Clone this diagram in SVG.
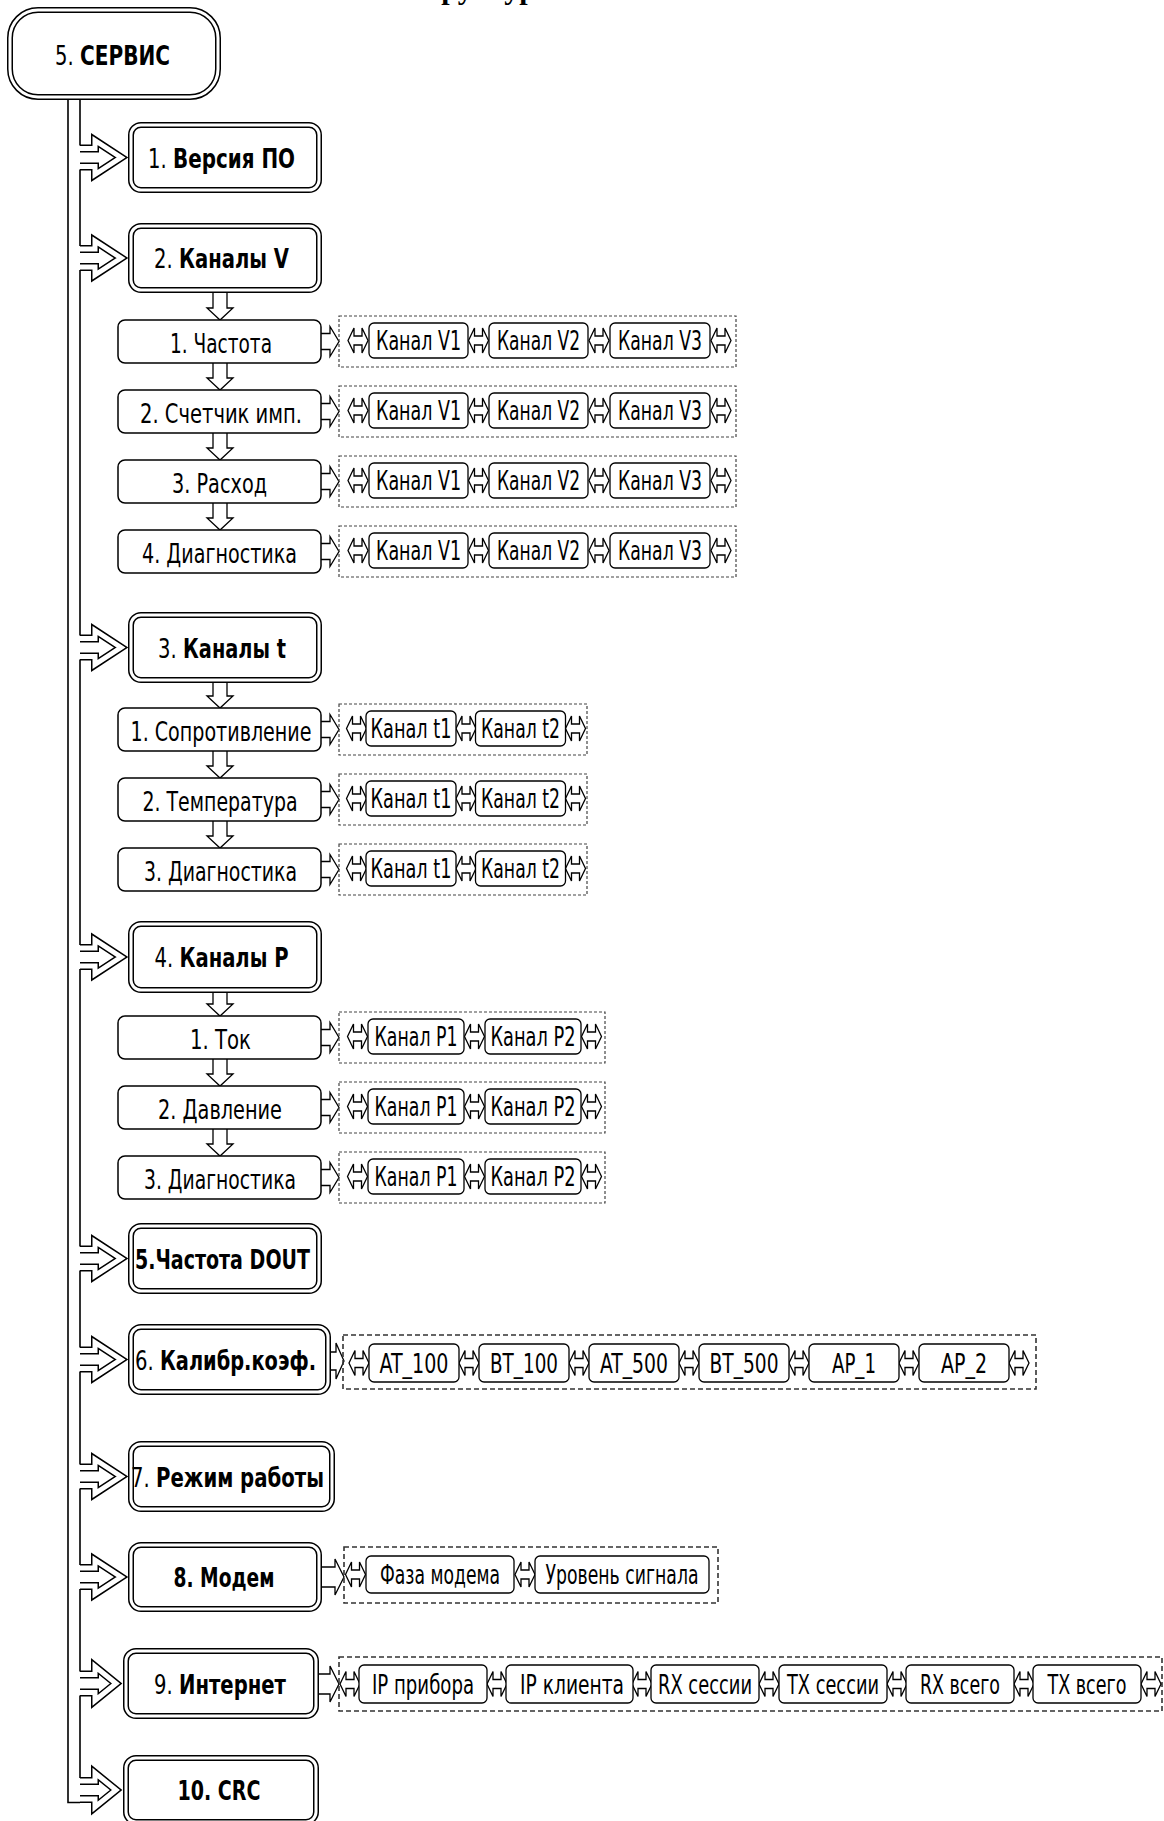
<svg xmlns="http://www.w3.org/2000/svg" xmlns:xlink="http://www.w3.org/1999/xlink" width="1164" height="1821" viewBox="0 0 1164 1821">
<style>
.mbo{fill:#fff;stroke:#000;stroke-width:6}
.mbi{fill:none;stroke:#fff;stroke-width:3}
.sb{fill:#fff;stroke:#000;stroke-width:1.5}
.cb{fill:#fff;stroke:#000;stroke-width:1.3}
.dg{fill:none;stroke:#444;stroke-width:1.2;stroke-dasharray:3 2}
.dg2{fill:none;stroke:#333;stroke-width:1.6;stroke-dasharray:5 3}
.ar{fill:#fff;stroke:#000;stroke-width:1.3;stroke-linejoin:miter}
.bao{fill:#fff;stroke:#000;stroke-width:8;stroke-linejoin:miter;stroke-miterlimit:10}
.bai{fill:none;stroke:#fff;stroke-width:5;stroke-linejoin:miter;stroke-miterlimit:10}
.tr{fill:none;stroke:#000;stroke-width:1.6}
.t{font-family:"DejaVu Sans Condensed","DejaVu Sans",sans-serif;font-stretch:condensed;font-size:26px;fill:#000;text-anchor:middle}
.s{text-anchor:start}
.b{font-weight:bold}
.ttl{font-family:"Liberation Serif","Times New Roman",serif;font-weight:bold;font-size:30px}
</style>
<defs>
<path id="da" d="M0,0 L6,-12.5 L6,-4.5 L14,-4.5 L14,-12.5 L20,0 L14,12.5 L14,4.5 L6,4.5 L6,12.5 Z"/>
</defs>
<text class="ttl" x="405" y="-1.5">Структура</text>

<g id="connectors">
<path class="tr" d="M68,100 V1802.5 H80"/>
<path class="tr" d="M80,100 V145.5 M80,169.5 V246 M80,270 V635.5 M80,659.5 V945 M80,969 V1246.5 M80,1270.5 V1347.5 M80,1371.5 V1464.5 M80,1488.5 V1565 M80,1589 V1671.5 M80,1695.5 V1778"/>
<g id="branch-arrows">
<path class="bao" d="M80,148.5 H95 V140.5 L121,157.5 L95,174.5 V166.5 H80"/><path class="bai" d="M80,148.5 H95 V140.5 L121,157.5 L95,174.5 V166.5 H80"/>
<path class="bao" d="M80,249 H95 V241 L121,258 L95,275 V267 H80"/><path class="bai" d="M80,249 H95 V241 L121,258 L95,275 V267 H80"/>
<path class="bao" d="M80,638.5 H95 V630.5 L121,647.5 L95,664.5 V656.5 H80"/><path class="bai" d="M80,638.5 H95 V630.5 L121,647.5 L95,664.5 V656.5 H80"/>
<path class="bao" d="M80,948 H95 V940 L121,957 L95,974 V966 H80"/><path class="bai" d="M80,948 H95 V940 L121,957 L95,974 V966 H80"/>
<path class="bao" d="M80,1249.5 H95 V1241.5 L121,1258.5 L95,1275.5 V1267.5 H80"/><path class="bai" d="M80,1249.5 H95 V1241.5 L121,1258.5 L95,1275.5 V1267.5 H80"/>
<path class="bao" d="M80,1350.5 H95 V1342.5 L121,1359.5 L95,1376.5 V1368.5 H80"/><path class="bai" d="M80,1350.5 H95 V1342.5 L121,1359.5 L95,1376.5 V1368.5 H80"/>
<path class="bao" d="M80,1467.5 H95 V1459.5 L121,1476.5 L95,1493.5 V1485.5 H80"/><path class="bai" d="M80,1467.5 H95 V1459.5 L121,1476.5 L95,1493.5 V1485.5 H80"/>
<path class="bao" d="M80,1568 H95 V1560 L121,1577 L95,1594 V1586 H80"/><path class="bai" d="M80,1568 H95 V1560 L121,1577 L95,1594 V1586 H80"/>
<path class="bao" d="M80,1674.5 H95 V1666.5 L116,1683.5 L95,1700.5 V1692.5 H80"/><path class="bai" d="M80,1674.5 H95 V1666.5 L116,1683.5 L95,1700.5 V1692.5 H80"/>
<path class="bao" d="M80,1781 H95 V1773 L116,1790 L95,1807 V1799 H80"/><path class="bai" d="M80,1781 H95 V1773 L116,1790 L95,1807 V1799 H80"/>
</g>
<g id="down-arrows">
<path class="ar" d="M213,291 V308 H207 L220,320 L233,308 H227 V291"/>
<path class="ar" d="M213,363 V378 H207 L220,390 L233,378 H227 V363"/>
<path class="ar" d="M213,433 V448 H207 L220,460 L233,448 H227 V433"/>
<path class="ar" d="M213,503 V518 H207 L220,530 L233,518 H227 V503"/>
<path class="ar" d="M213,681 V696 H207 L220,708 L233,696 H227 V681"/>
<path class="ar" d="M213,751 V766 H207 L220,778 L233,766 H227 V751"/>
<path class="ar" d="M213,821 V836 H207 L220,848 L233,836 H227 V821"/>
<path class="ar" d="M213,991 V1004 H207 L220,1016 L233,1004 H227 V991"/>
<path class="ar" d="M213,1059 V1074 H207 L220,1086 L233,1074 H227 V1059"/>
<path class="ar" d="M213,1129 V1144 H207 L220,1156 L233,1144 H227 V1129"/>
</g>
<g id="right-arrows">
<path class="ar" d="M321,333.5 H330 V326.5 L339,341.5 L330,356.5 V349.5 H321"/>
<path class="ar" d="M321,403.5 H330 V396.5 L339,411.5 L330,426.5 V419.5 H321"/>
<path class="ar" d="M321,473.5 H330 V466.5 L339,481.5 L330,496.5 V489.5 H321"/>
<path class="ar" d="M321,543.5 H330 V536.5 L339,551.5 L330,566.5 V559.5 H321"/>
<path class="ar" d="M321,721.5 H330 V714.5 L339,729.5 L330,744.5 V737.5 H321"/>
<path class="ar" d="M321,791.5 H330 V784.5 L339,799.5 L330,814.5 V807.5 H321"/>
<path class="ar" d="M321,861.5 H330 V854.5 L339,869.5 L330,884.5 V877.5 H321"/>
<path class="ar" d="M321,1029.5 H330 V1022.5 L339,1037.5 L330,1052.5 V1045.5 H321"/>
<path class="ar" d="M321,1099.5 H330 V1092.5 L339,1107.5 L330,1122.5 V1115.5 H321"/>
<path class="ar" d="M321,1169.5 H330 V1162.5 L339,1177.5 L330,1192.5 V1185.5 H321"/>
<path class="ar" d="M331,1352 H336 V1343 L344,1361 L336,1379 V1370 H331"/>
<path class="ar" d="M322,1567 H335 V1559 L344,1577 L335,1595 V1587 H322"/>
<path class="ar" d="M319,1674 H330 V1666 L339,1684 L330,1702 V1694 H319"/>
</g>
</g>

<g id="n-servis"><rect class="mbo" x="10" y="10" width="208" height="87" rx="28"/><rect class="mbi" x="10" y="10" width="208" height="87" rx="28"/>
<text class="t s" x="55" y="64.5" textLength="18.7" lengthAdjust="spacingAndGlyphs">5.</text><text class="t s b" x="80" y="64.5" textLength="90" lengthAdjust="spacingAndGlyphs">СЕРВИС</text></g>

<g id="n-versiya"><rect class="mbo" x="131" y="125" width="188" height="65" rx="10"/><rect class="mbi" x="131" y="125" width="188" height="65" rx="10"/>
<text class="t s" x="148" y="167.5" textLength="18.7" lengthAdjust="spacingAndGlyphs">1.</text><text class="t s b" x="173" y="167.5" textLength="122" lengthAdjust="spacingAndGlyphs">Версия ПО</text></g>

<g id="n-kanaly-v"><rect class="mbo" x="131" y="226" width="188" height="64" rx="10"/><rect class="mbi" x="131" y="226" width="188" height="64" rx="10"/>
<text class="t s" x="154" y="268" textLength="18.7" lengthAdjust="spacingAndGlyphs">2.</text><text class="t s b" x="179" y="268" textLength="110" lengthAdjust="spacingAndGlyphs">Каналы V</text></g>

<g id="n-v-sub">
<rect class="sb" x="118" y="320" width="203" height="43" rx="7"/><text class="t" x="221" y="352.5" textLength="102" lengthAdjust="spacingAndGlyphs">1. Частота</text>
<rect class="sb" x="118" y="390" width="203" height="43" rx="7"/><text class="t" x="221" y="422.5" textLength="162" lengthAdjust="spacingAndGlyphs">2. Счетчик имп.</text>
<rect class="sb" x="118" y="460" width="203" height="43" rx="7"/><text class="t" x="219.5" y="492.5" textLength="95" lengthAdjust="spacingAndGlyphs">3. Расход</text>
<rect class="sb" x="118" y="530" width="203" height="43" rx="7"/><text class="t" x="219.5" y="562.5" textLength="155" lengthAdjust="spacingAndGlyphs">4. Диагностика</text>
</g>

<g id="n-v-channels">
<rect class="dg" x="339" y="316" width="397" height="51"/>
<rect class="dg" x="339" y="386" width="397" height="51"/>
<rect class="dg" x="339" y="456" width="397" height="51"/>
<rect class="dg" x="339" y="526" width="397" height="51"/>
<use href="#da" class="ar" x="348" y="340.5"/><use href="#da" class="ar" x="468.5" y="340.5"/><use href="#da" class="ar" x="589" y="340.5"/><use href="#da" class="ar" x="711" y="340.5"/>
<use href="#da" class="ar" x="348" y="410.5"/><use href="#da" class="ar" x="468.5" y="410.5"/><use href="#da" class="ar" x="589" y="410.5"/><use href="#da" class="ar" x="711" y="410.5"/>
<use href="#da" class="ar" x="348" y="480.5"/><use href="#da" class="ar" x="468.5" y="480.5"/><use href="#da" class="ar" x="589" y="480.5"/><use href="#da" class="ar" x="711" y="480.5"/>
<use href="#da" class="ar" x="348" y="550.5"/><use href="#da" class="ar" x="468.5" y="550.5"/><use href="#da" class="ar" x="589" y="550.5"/><use href="#da" class="ar" x="711" y="550.5"/>
<rect class="cb" x="369" y="323" width="99" height="35" rx="5"/><rect class="cb" x="489" y="323" width="99" height="35" rx="5"/><rect class="cb" x="610" y="323" width="100" height="35" rx="5"/>
<rect class="cb" x="369" y="393" width="99" height="35" rx="5"/><rect class="cb" x="489" y="393" width="99" height="35" rx="5"/><rect class="cb" x="610" y="393" width="100" height="35" rx="5"/>
<rect class="cb" x="369" y="463" width="99" height="35" rx="5"/><rect class="cb" x="489" y="463" width="99" height="35" rx="5"/><rect class="cb" x="610" y="463" width="100" height="35" rx="5"/>
<rect class="cb" x="369" y="533" width="99" height="35" rx="5"/><rect class="cb" x="489" y="533" width="99" height="35" rx="5"/><rect class="cb" x="610" y="533" width="100" height="35" rx="5"/>
<text class="t" x="418.5" y="350" textLength="85" lengthAdjust="spacingAndGlyphs">Канал V1</text><text class="t" x="538.5" y="350" textLength="83" lengthAdjust="spacingAndGlyphs">Канал V2</text><text class="t" x="660" y="350" textLength="84" lengthAdjust="spacingAndGlyphs">Канал V3</text>
<text class="t" x="418.5" y="420" textLength="85" lengthAdjust="spacingAndGlyphs">Канал V1</text><text class="t" x="538.5" y="420" textLength="83" lengthAdjust="spacingAndGlyphs">Канал V2</text><text class="t" x="660" y="420" textLength="84" lengthAdjust="spacingAndGlyphs">Канал V3</text>
<text class="t" x="418.5" y="490" textLength="85" lengthAdjust="spacingAndGlyphs">Канал V1</text><text class="t" x="538.5" y="490" textLength="83" lengthAdjust="spacingAndGlyphs">Канал V2</text><text class="t" x="660" y="490" textLength="84" lengthAdjust="spacingAndGlyphs">Канал V3</text>
<text class="t" x="418.5" y="560" textLength="85" lengthAdjust="spacingAndGlyphs">Канал V1</text><text class="t" x="538.5" y="560" textLength="83" lengthAdjust="spacingAndGlyphs">Канал V2</text><text class="t" x="660" y="560" textLength="84" lengthAdjust="spacingAndGlyphs">Канал V3</text>
</g>

<g id="n-kanaly-t"><rect class="mbo" x="131" y="615" width="188" height="65" rx="10"/><rect class="mbi" x="131" y="615" width="188" height="65" rx="10"/>
<text class="t s" x="158" y="657.5" textLength="18.7" lengthAdjust="spacingAndGlyphs">3.</text><text class="t s b" x="183" y="657.5" textLength="103" lengthAdjust="spacingAndGlyphs">Каналы t</text></g>

<g id="n-t-sub">
<rect class="sb" x="118" y="708" width="203" height="43" rx="7"/><text class="t" x="221" y="740.5" textLength="181" lengthAdjust="spacingAndGlyphs">1. Сопротивление</text>
<rect class="sb" x="118" y="778" width="203" height="43" rx="7"/><text class="t" x="220" y="810.5" textLength="155" lengthAdjust="spacingAndGlyphs">2. Температура</text>
<rect class="sb" x="118" y="848" width="203" height="43" rx="7"/><text class="t" x="220.5" y="880.5" textLength="153" lengthAdjust="spacingAndGlyphs">3. Диагностика</text>
</g>

<g id="n-t-channels">
<rect class="dg" x="339" y="704" width="248" height="51"/>
<rect class="dg" x="339" y="774" width="248" height="51"/>
<rect class="dg" x="339" y="844" width="248" height="51"/>
<use href="#da" class="ar" x="346.5" y="728.5"/><use href="#da" class="ar" x="456" y="728.5"/><use href="#da" class="ar" x="565.5" y="728.5"/>
<use href="#da" class="ar" x="346.5" y="798.5"/><use href="#da" class="ar" x="456" y="798.5"/><use href="#da" class="ar" x="565.5" y="798.5"/>
<use href="#da" class="ar" x="346.5" y="868.5"/><use href="#da" class="ar" x="456" y="868.5"/><use href="#da" class="ar" x="565.5" y="868.5"/>
<rect class="cb" x="366" y="711" width="90" height="35" rx="5"/><rect class="cb" x="475.5" y="711" width="90" height="35" rx="5"/>
<rect class="cb" x="366" y="781" width="90" height="35" rx="5"/><rect class="cb" x="475.5" y="781" width="90" height="35" rx="5"/>
<rect class="cb" x="366" y="851" width="90" height="35" rx="5"/><rect class="cb" x="475.5" y="851" width="90" height="35" rx="5"/>
<text class="t" x="411" y="738" textLength="81" lengthAdjust="spacingAndGlyphs">Канал t1</text><text class="t" x="520.5" y="738" textLength="79" lengthAdjust="spacingAndGlyphs">Канал t2</text>
<text class="t" x="411" y="808" textLength="81" lengthAdjust="spacingAndGlyphs">Канал t1</text><text class="t" x="520.5" y="808" textLength="79" lengthAdjust="spacingAndGlyphs">Канал t2</text>
<text class="t" x="411" y="878" textLength="81" lengthAdjust="spacingAndGlyphs">Канал t1</text><text class="t" x="520.5" y="878" textLength="79" lengthAdjust="spacingAndGlyphs">Канал t2</text>
</g>

<g id="n-kanaly-p"><rect class="mbo" x="131" y="924" width="188" height="66" rx="10"/><rect class="mbi" x="131" y="924" width="188" height="66" rx="10"/>
<text class="t s" x="154.5" y="967" textLength="18.7" lengthAdjust="spacingAndGlyphs">4.</text><text class="t s b" x="179.5" y="967" textLength="109" lengthAdjust="spacingAndGlyphs">Каналы P</text></g>

<g id="n-p-sub">
<rect class="sb" x="118" y="1016" width="203" height="43" rx="7"/><text class="t" x="220.5" y="1048.5" textLength="61" lengthAdjust="spacingAndGlyphs">1. Ток</text>
<rect class="sb" x="118" y="1086" width="203" height="43" rx="7"/><text class="t" x="220" y="1118.5" textLength="124" lengthAdjust="spacingAndGlyphs">2. Давление</text>
<rect class="sb" x="118" y="1156" width="203" height="43" rx="7"/><text class="t" x="220" y="1188.5" textLength="152" lengthAdjust="spacingAndGlyphs">3. Диагностика</text>
</g>

<g id="n-p-channels">
<rect class="dg" x="339" y="1012" width="266" height="51"/>
<rect class="dg" x="339" y="1082" width="266" height="51"/>
<rect class="dg" x="339" y="1152" width="266" height="51"/>
<use href="#da" class="ar" x="347.5" y="1036.5"/><use href="#da" class="ar" x="464.5" y="1036.5"/><use href="#da" class="ar" x="581.5" y="1036.5"/>
<use href="#da" class="ar" x="347.5" y="1106.5"/><use href="#da" class="ar" x="464.5" y="1106.5"/><use href="#da" class="ar" x="581.5" y="1106.5"/>
<use href="#da" class="ar" x="347.5" y="1176.5"/><use href="#da" class="ar" x="464.5" y="1176.5"/><use href="#da" class="ar" x="581.5" y="1176.5"/>
<rect class="cb" x="368" y="1019" width="96" height="35" rx="5"/><rect class="cb" x="485" y="1019" width="96" height="35" rx="5"/>
<rect class="cb" x="368" y="1089" width="96" height="35" rx="5"/><rect class="cb" x="485" y="1089" width="96" height="35" rx="5"/>
<rect class="cb" x="368" y="1159" width="96" height="35" rx="5"/><rect class="cb" x="485" y="1159" width="96" height="35" rx="5"/>
<text class="t" x="416" y="1046" textLength="83" lengthAdjust="spacingAndGlyphs">Канал P1</text><text class="t" x="533" y="1046" textLength="85" lengthAdjust="spacingAndGlyphs">Канал P2</text>
<text class="t" x="416" y="1116" textLength="83" lengthAdjust="spacingAndGlyphs">Канал P1</text><text class="t" x="533" y="1116" textLength="85" lengthAdjust="spacingAndGlyphs">Канал P2</text>
<text class="t" x="416" y="1186" textLength="83" lengthAdjust="spacingAndGlyphs">Канал P1</text><text class="t" x="533" y="1186" textLength="85" lengthAdjust="spacingAndGlyphs">Канал P2</text>
</g>

<g id="n-dout"><rect class="mbo" x="131" y="1226" width="188" height="65" rx="10"/><rect class="mbi" x="131" y="1226" width="188" height="65" rx="10"/>
<text class="t s b" x="135" y="1268.5" textLength="175" lengthAdjust="spacingAndGlyphs">5.Частота DOUT</text></g>

<g id="n-kalibr"><rect class="mbo" x="131" y="1327" width="197" height="65" rx="10"/><rect class="mbi" x="131" y="1327" width="197" height="65" rx="10"/>
<text class="t s" x="135" y="1369.5" textLength="18.7" lengthAdjust="spacingAndGlyphs">6.</text><text class="t s b" x="160" y="1369.5" textLength="156" lengthAdjust="spacingAndGlyphs">Калибр.коэф.</text></g>

<g id="n-kalibr-items">
<rect class="dg2" x="343" y="1335" width="693" height="54"/>
<use href="#da" class="ar" x="349" y="1363"/><use href="#da" class="ar" x="459" y="1363"/><use href="#da" class="ar" x="569" y="1363"/><use href="#da" class="ar" x="679" y="1363"/><use href="#da" class="ar" x="789" y="1363"/><use href="#da" class="ar" x="899" y="1363"/><use href="#da" class="ar" x="1009" y="1363"/>
<rect class="cb" x="369" y="1344" width="90" height="38" rx="5"/><rect class="cb" x="479" y="1344" width="90" height="38" rx="5"/><rect class="cb" x="589" y="1344" width="90" height="38" rx="5"/><rect class="cb" x="699" y="1344" width="90" height="38" rx="5"/><rect class="cb" x="809" y="1344" width="90" height="38" rx="5"/><rect class="cb" x="919" y="1344" width="90" height="38" rx="5"/>
<text class="t" x="414" y="1372.5" textLength="69" lengthAdjust="spacingAndGlyphs">AT_100</text>
<text class="t" x="524" y="1372.5" textLength="68" lengthAdjust="spacingAndGlyphs">BT_100</text>
<text class="t" x="634" y="1372.5" textLength="68" lengthAdjust="spacingAndGlyphs">AT_500</text>
<text class="t" x="744" y="1372.5" textLength="69" lengthAdjust="spacingAndGlyphs">BT_500</text>
<text class="t" x="854" y="1372.5" textLength="44" lengthAdjust="spacingAndGlyphs">AP_1</text>
<text class="t" x="964" y="1372.5" textLength="46" lengthAdjust="spacingAndGlyphs">AP_2</text>
</g>

<g id="n-rezhim"><rect class="mbo" x="131" y="1444" width="201" height="65" rx="10"/><rect class="mbi" x="131" y="1444" width="201" height="65" rx="10"/>
<text class="t s" x="131" y="1486.5" textLength="18.7" lengthAdjust="spacingAndGlyphs">7.</text><text class="t s b" x="156" y="1486.5" textLength="168" lengthAdjust="spacingAndGlyphs">Режим работы</text></g>

<g id="n-modem"><rect class="mbo" x="131" y="1545" width="188" height="64" rx="10"/><rect class="mbi" x="131" y="1545" width="188" height="64" rx="10"/>
<text class="t b" x="224" y="1587" textLength="101" lengthAdjust="spacingAndGlyphs">8. Модем</text></g>

<g id="n-modem-items">
<rect class="dg2" x="344" y="1547" width="374" height="56"/>
<use href="#da" class="ar" x="345.5" y="1574.5"/><use href="#da" class="ar" x="515" y="1574.5"/>
<rect class="cb" x="366" y="1556" width="148" height="37" rx="5"/><rect class="cb" x="535" y="1556" width="174" height="37" rx="5"/>
<text class="t" x="440" y="1584" textLength="120" lengthAdjust="spacingAndGlyphs">Фаза модема</text>
<text class="t" x="622" y="1584" textLength="153" lengthAdjust="spacingAndGlyphs">Уровень сигнала</text>
</g>

<g id="n-internet"><rect class="mbo" x="126" y="1651" width="190" height="65" rx="10"/><rect class="mbi" x="126" y="1651" width="190" height="65" rx="10"/>
<text class="t s" x="154" y="1693.5" textLength="18.7" lengthAdjust="spacingAndGlyphs">9.</text><text class="t s b" x="179" y="1693.5" textLength="107" lengthAdjust="spacingAndGlyphs">Интернет</text></g>

<g id="n-internet-items">
<rect class="dg2" x="339" y="1657" width="823" height="54"/>
<use href="#da" class="ar" x="340" y="1684"/><use href="#da" class="ar" x="487" y="1684"/><use href="#da" class="ar" x="632" y="1684"/><use href="#da" class="ar" x="759" y="1684"/><use href="#da" class="ar" x="887" y="1684"/><use href="#da" class="ar" x="1014" y="1684"/><use href="#da" class="ar" x="1141" y="1684"/>
<rect class="cb" x="359" y="1665" width="128" height="38" rx="5"/><rect class="cb" x="506" y="1665" width="127" height="38" rx="5"/><rect class="cb" x="651" y="1665" width="108" height="38" rx="5"/><rect class="cb" x="779" y="1665" width="108" height="38" rx="5"/><rect class="cb" x="906" y="1665" width="108" height="38" rx="5"/><rect class="cb" x="1033" y="1665" width="108" height="38" rx="5"/>
<text class="t" x="423" y="1693.5" textLength="102" lengthAdjust="spacingAndGlyphs">IP прибора</text>
<text class="t" x="572" y="1693.5" textLength="104" lengthAdjust="spacingAndGlyphs">IP клиента</text>
<text class="t" x="705" y="1693.5" textLength="94" lengthAdjust="spacingAndGlyphs">RX сессии</text>
<text class="t" x="833" y="1693.5" textLength="92" lengthAdjust="spacingAndGlyphs">TX сессии</text>
<text class="t" x="960" y="1693.5" textLength="80" lengthAdjust="spacingAndGlyphs">RX всего</text>
<text class="t" x="1087" y="1693.5" textLength="79" lengthAdjust="spacingAndGlyphs">TX всего</text>
</g>

<g id="n-crc"><rect class="mbo" x="126" y="1758" width="190" height="64" rx="10"/><rect class="mbi" x="126" y="1758" width="190" height="64" rx="10"/>
<text class="t b" x="219" y="1800" textLength="83" lengthAdjust="spacingAndGlyphs">10. CRC</text></g>
</svg>
